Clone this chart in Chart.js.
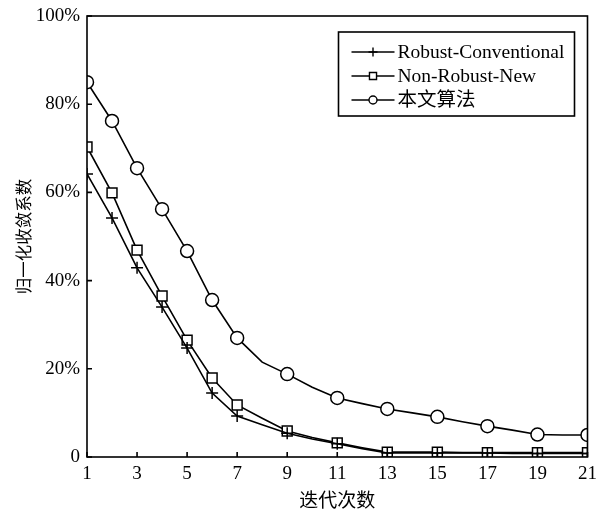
<!DOCTYPE html>
<html>
<head>
<meta charset="utf-8">
<script src="https://cdn.jsdelivr.net/npm/chart.js@4/dist/chart.umd.min.js"></script>
<style>
  html, body { margin: 0; padding: 0; background: #fff; }
  #wrap { width: 596px; height: 514px; }
</style>
</head>
<body>
<div id="wrap"><canvas id="line-chart"></canvas></div>
<script>
// iterations (x) and normalised convergence coefficient (%)
var iterations = [1,2,3,4,5,6,7,8,9,10,11,12,13,14,15,16,17,18,19,20,21];
var robustConventional = [64.2,54.2,42.9,34.0,24.7,14.5,9.3,7.3,5.4,4.1,3.0,1.9,0.9,0.9,0.9,0.9,0.9,0.8,0.8,0.8,0.8];
var nonRobustNew = [70.3,59.9,46.9,36.5,26.5,17.9,11.8,8.8,5.9,4.4,3.2,2.1,1.1,1.1,1.1,1.0,1.0,1.0,1.0,1.0,1.0];
var proposed = [85.0,76.2,65.5,56.2,46.7,35.6,27.0,21.5,18.8,15.8,13.4,12.1,10.9,10.0,9.1,8.0,7.0,6.1,5.1,5.0,5.0];
var markedIterations = [1,2,3,4,5,6,7,9,11,13,15,17,19,21];
var xTicks = [1,3,5,7,9,11,13,15,17,19,21];
var yTicks = [0,20,40,60,80,100];
var seriesNames = ["Robust-Conventional", "Non-Robust-New", "本文算法"];

var serif = "'Liberation Serif', 'Times New Roman', 'Noto Sans CJK SC'";

function toPoints(vals) {
  return iterations.map(function (x, i) { return { x: x, y: vals[i] }; });
}
function markerRadius(r) {
  return function (ctx) {
    var p = ctx.raw;
    return p && markedIterations.indexOf(p.x) >= 0 ? r : 0;
  };
}
function series(label, vals, style, r) {
  return {
    label: label,
    data: toPoints(vals),
    borderColor: "#000",
    borderWidth: 1.6,
    backgroundColor: "#fff",
    pointStyle: style,
    pointRadius: markerRadius(r),
    pointHoverRadius: markerRadius(r),
    pointBorderColor: "#000",
    pointBackgroundColor: "#fff",
    pointBorderWidth: 1.5,
    tension: 0,
    fill: false
  };
}

// frame, inward ticks and boxed legend
var framePlugin = {
  id: "frame",
  afterDatasetsDraw: function (chart) {
    var ctx = chart.ctx, a = chart.chartArea;
    var xs = chart.scales.x, ys = chart.scales.y;
    ctx.save();
    ctx.strokeStyle = "#000";
    ctx.lineWidth = 1.6;
    ctx.strokeRect(a.left, a.top, a.right - a.left, a.bottom - a.top);
    ctx.beginPath();
    xTicks.forEach(function (v) {
      var px = xs.getPixelForValue(v);
      ctx.moveTo(px, a.bottom);
      ctx.lineTo(px, a.bottom - 5);
    });
    yTicks.forEach(function (v) {
      var py = ys.getPixelForValue(v);
      ctx.moveTo(a.left, py);
      ctx.lineTo(a.left + 5, py);
    });
    ctx.stroke();

    // legend box
    var bw = 236, bh = 84;
    var bx = a.right - 13 - bw, by = a.top + 16;
    ctx.fillStyle = "#fff";
    ctx.fillRect(bx, by, bw, bh);
    ctx.strokeRect(bx, by, bw, bh);
    var sizes = [4.5, 5, 4];
    chart.data.datasets.forEach(function (ds, i) {
      var cy = by + 20 + i * 24;
      var x0 = bx + 13, x1 = bx + 56;
      ctx.lineWidth = 1.4;
      ctx.strokeStyle = "#000";
      ctx.beginPath();
      ctx.moveTo(x0, cy);
      ctx.lineTo(x1, cy);
      ctx.stroke();
      ctx.fillStyle = "#fff";
      Chart.helpers.drawPoint(ctx, { pointStyle: ds.pointStyle, radius: sizes[i], rotation: 0, borderWidth: 1.3 }, (x0 + x1) / 2, cy);
      ctx.fillStyle = "#000";
      ctx.font = "19.5px " + serif;
      ctx.textBaseline = "middle";
      ctx.textAlign = "left";
      ctx.fillText(ds.label, bx + 59, cy + 1);
    });
    ctx.restore();
  }
};

new Chart(document.getElementById("line-chart"), {
  type: "line",
  data: {
    datasets: [
      series(seriesNames[0], robustConventional, "cross", 6),
      series(seriesNames[1], nonRobustNew, "rect", 7),
      series(seriesNames[2], proposed, "circle", 6.5)
    ]
  },
  options: {
    responsive: true,
    maintainAspectRatio: false,
    animation: false,
    layout: { padding: { top: 16, right: 8, left: 0, bottom: 0 } },
    plugins: {
      legend: { display: false },
      tooltip: { enabled: false }
    },
    scales: {
      x: {
        type: "linear",
        min: 1,
        max: 21,
        afterBuildTicks: function (s) { s.ticks = xTicks.map(function (v) { return { value: v }; }); },
        afterFit: function (s) { s.height = 57; s.paddingLeft = 0; s.paddingRight = 0; },
        grid: { display: false, drawTicks: false },
        border: { display: false },
        ticks: { color: "#000", padding: 6, maxRotation: 0, font: { family: serif, size: 19 } },
        title: {
          display: true,
          text: "迭代次数",
          color: "#000",
          font: { family: serif, size: 19 },
          padding: { top: 0, bottom: 1 }
        }
      },
      y: {
        min: 0,
        max: 100,
        afterBuildTicks: function (s) { s.ticks = yTicks.map(function (v) { return { value: v }; }); },
        afterFit: function (s) { s.width = 87; s.paddingTop = 0; s.paddingBottom = 0; },
        grid: { display: false, drawTicks: false },
        border: { display: false },
        ticks: {
          color: "#000",
          padding: 7,
          font: { family: serif, size: 19 },
          callback: function (v) { return v === 0 ? "0" : v + "%"; }
        },
        title: {
          display: true,
          text: "归一化收敛系数",
          color: "#000",
          font: { family: "'Noto Sans CJK SC'", size: 16.5 },
          padding: { top: 14, bottom: 0 }
        }
      }
    }
  },
  plugins: [framePlugin]
});
</script>
</body>
</html>
